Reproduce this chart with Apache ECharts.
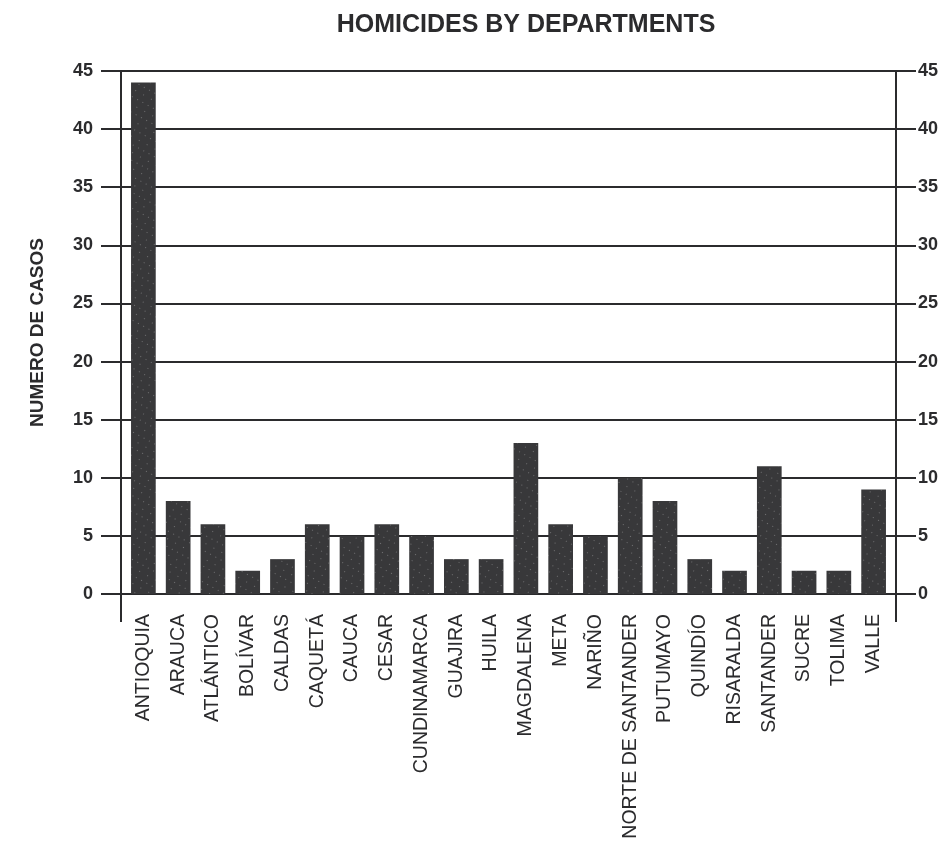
<!DOCTYPE html>
<html><head><meta charset="utf-8">
<script src="https://cdn.jsdelivr.net/npm/echarts@6/dist/echarts.min.js"></script>
<style>html,body{margin:0;padding:0;background:#fff}#c{width:951px;height:842px}</style>
</head><body><div id="c"></div>
<script>
const departments = ['ANTIOQUIA','ARAUCA','ATLÁNTICO','BOLÍVAR','CALDAS','CAQUETÁ','CAUCA','CESAR','CUNDINAMARCA','GUAJIRA','HUILA','MAGDALENA','META','NARIÑO','NORTE DE SANTANDER','PUTUMAYO','QUINDÍO','RISARALDA','SANTANDER','SUCRE','TOLIMA','VALLE'];
const homicides = [44,8,6,2,3,6,5,6,5,3,3,13,6,5,10,8,3,2,11,2,2,9];
const titleText = 'HOMICIDES BY DEPARTMENTS';
const yAxisName = 'NUMERO DE CASOS';

const ink = '#2b2b2d';
const font = "'Liberation Sans', Arial, sans-serif";
const chart = echarts.init(document.getElementById('c'));
const valueAxis = (pos, margin) => ({
  type: 'value', gridIndex: 0, position: pos, min: 0, max: 45, interval: 5,
  axisLine: {show: true, lineStyle: {color: ink, width: 2}},
  axisTick: {show: true, inside: false, length: 20, lineStyle: {color: ink, width: 2}},
  axisLabel: {margin: margin, color: ink, fontFamily: font, fontWeight: 'bold', fontSize: 18},
  splitLine: {show: pos === 'left', lineStyle: {color: ink, width: 2}}
});
const yLeft = valueAxis('left', 28);
yLeft.name = yAxisName;
yLeft.nameLocation = 'middle';
yLeft.nameGap = 74;
yLeft.nameTextStyle = {color: ink, fontFamily: font, fontWeight: 'bold', fontSize: 19};
chart.setOption({
  animation: false,
  aria: {enabled: true, decal: {show: true}},
  title: {text: titleText, left: 521, top: 8, textAlign: 'center',
    textStyle: {color: ink, fontFamily: font, fontWeight: 'bold', fontSize: 25}},
  grid: [
    {left: 121, right: 55, top: 71, bottom: 248, containLabel: false},
    {left: 126, right: 60, top: 71, bottom: 248, containLabel: false}
  ],
  xAxis: [
    {type: 'category', gridIndex: 0, data: departments,
      axisLine: {lineStyle: {color: ink, width: 2}},
      axisTick: {show: true, length: 28, interval: (i) => i === 0, lineStyle: {color: ink, width: 2}},
      axisLabel: {show: false}},
    {type: 'category', gridIndex: 1, data: departments,
      axisLine: {show: false}, axisTick: {show: false},
      axisLabel: {rotate: 90, interval: 0, margin: 20, color: ink, fontFamily: font, fontSize: 19.5}}
  ],
  yAxis: [yLeft, valueAxis('right', 22),
    {type: 'value', gridIndex: 1, min: 0, max: 45, interval: 5, show: false}],
  series: [{
    type: 'bar', data: homicides, xAxisIndex: 1, yAxisIndex: 2, barCategoryGap: '29%',
    itemStyle: {color: '#38383a',
      decal: {symbol: 'rect', symbolSize: 1, color: 'rgba(255,255,255,0.28)', dashArrayX: [[1, 5], [1, 8]], dashArrayY: [1, 6], rotation: 0.5}}
  }]
});
</script></body></html>
